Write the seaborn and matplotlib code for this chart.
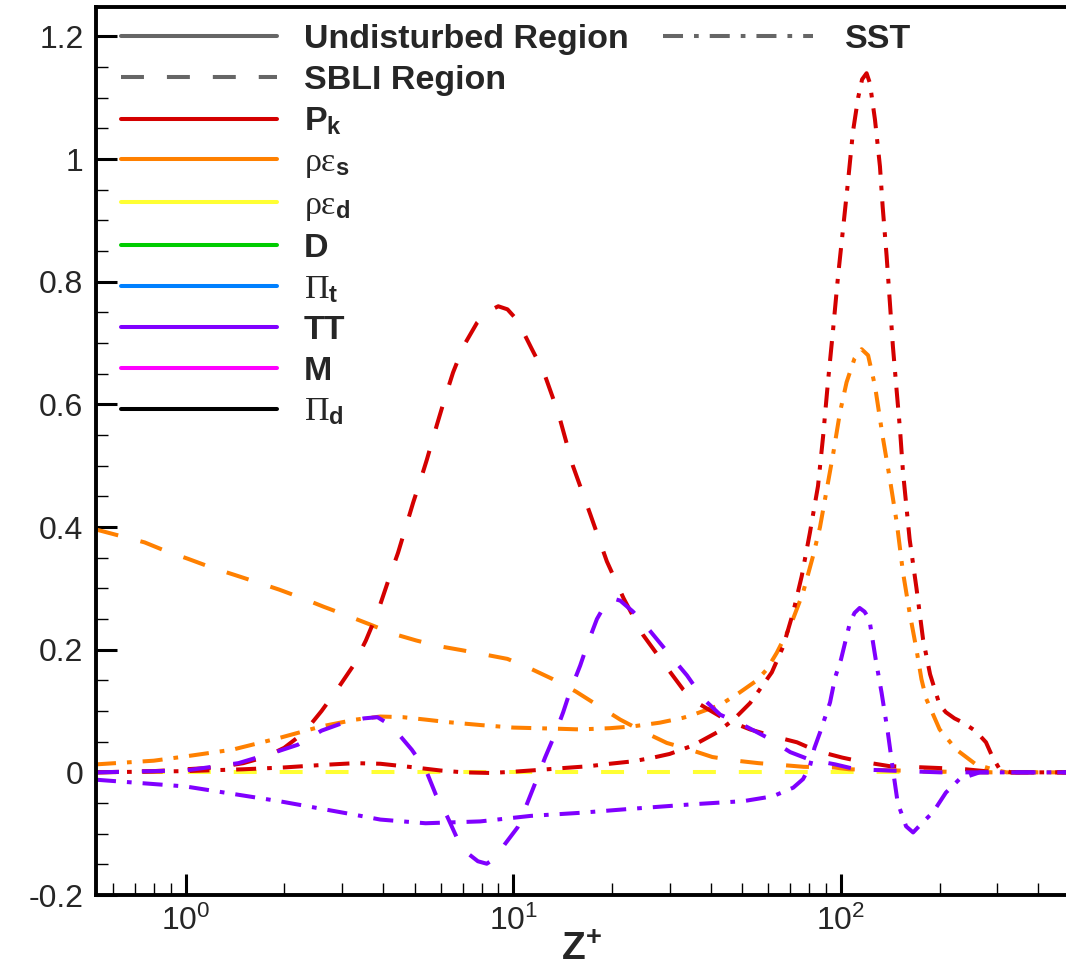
import matplotlib
matplotlib.use("Agg")
import matplotlib.pyplot as plt
import seaborn as sns
from matplotlib.font_manager import FontProperties
from matplotlib.lines import Line2D
from matplotlib.ticker import FuncFormatter, LogLocator, MultipleLocator, NullFormatter

# ---- data (Z+ vs budget term) ----
z_pk_sbli = [0.533, 0.8, 1.0, 1.25, 1.5, 1.75, 2.0, 2.3, 2.6, 2.9, 3.25, 3.55, 3.85, 4.2,
             4.45, 4.7, 4.95, 5.2, 5.45, 5.85, 6.2, 6.55, 7.05, 7.75, 8.4, 9.0, 9.6, 10.3,
             11.4, 12.4, 13.7, 15.2, 17.2, 19.3, 21.7, 24.9, 29.4, 33.0, 36.3, 39.0, 44.8,
             52.8, 62.0, 73.4, 84.3, 101, 114, 141, 162, 200, 240, 300, 486]
pk_sbli = [0.0, 0.002, 0.005, 0.008, 0.015, 0.025, 0.04, 0.065, 0.10, 0.135, 0.174, 0.215,
           0.26, 0.32, 0.358, 0.40, 0.44, 0.475, 0.51, 0.567, 0.612, 0.652, 0.695, 0.733, 0.752,
           0.76, 0.755, 0.737, 0.69, 0.652, 0.587, 0.50, 0.42, 0.344, 0.284, 0.224, 0.171,
           0.135, 0.114, 0.104, 0.085, 0.07, 0.059, 0.049, 0.035, 0.024, 0.018, 0.01, 0.009,
           0.007, 0.005, 0.0, 0.0]

z_eps_sbli = [0.533, 0.75, 0.86, 1.02, 1.2, 1.41, 1.63, 1.93, 2.27, 2.64, 3.1, 3.66, 4.3,
              5.06, 5.9, 7.0, 8.2, 9.6, 11.2, 13.2, 15.5, 18.0, 21.2, 25.0, 29.4, 34.6, 40.5,
              48, 56, 66, 77, 95, 106, 150, 250, 486]
eps_sbli = [0.396, 0.375, 0.362, 0.348, 0.334, 0.322, 0.311, 0.298, 0.284, 0.27, 0.256,
            0.241, 0.226, 0.215, 0.206, 0.199, 0.192, 0.185, 0.17, 0.152, 0.132, 0.11, 0.086,
            0.066, 0.048, 0.037, 0.025, 0.019, 0.015, 0.012, 0.009, 0.008, 0.005, 0.003, 0.0, 0.0]

z_tt_sbli = [0.533, 1.0, 1.45, 1.93, 2.2, 2.6, 3.0, 3.5, 3.85, 4.25, 4.9, 5.4, 5.8, 6.3, 6.8,
             7.3, 7.8, 8.3, 8.8, 9.4, 10.3, 11.0, 11.8, 12.5, 13.4, 14.2, 14.9, 16.0, 17.0,
             18.0, 19.0, 20.0, 21.2, 23.2, 26.2, 30.2, 33.9, 38.0, 42.8, 50, 59.4, 70, 80, 96,
             111, 140, 200, 486]
tt_sbli = [0.0, 0.003, 0.015, 0.035, 0.045, 0.068, 0.08, 0.088, 0.09, 0.076, 0.037, 0.005,
           -0.036, -0.073, -0.112, -0.133, -0.145, -0.149, -0.14, -0.118, -0.09, -0.052,
           -0.011, 0.024, 0.062, 0.098, 0.132, 0.174, 0.215, 0.25, 0.272, 0.284, 0.28, 0.262,
           0.23, 0.19, 0.158, 0.12, 0.094, 0.078, 0.057, 0.033, 0.021, 0.013, 0.005, 0.003,
           0.0, 0.0]

z_epsd_sbli = [0.533, 486]
epsd_sbli = [0.0, 0.0]

z_pk_sst = [0.533, 1.0, 1.5, 2.0, 2.6, 3.3, 3.93, 5.0, 6.0, 7.05, 8.5, 10, 12, 14.2, 17, 19.7,
            23.2, 26.7, 30, 35.4, 41.8, 47, 52.8, 57, 61.5, 66.6, 71.4, 75.9, 80.4, 85.1, 88.2,
            91.2, 94.6, 98, 101.4, 105, 108.8, 112.8, 116, 119.7, 122.5, 127, 131.5, 134,
            137.8, 141, 144, 148, 151.4, 154.6, 162, 170, 178, 187, 200, 209, 222, 236, 258,
            277, 290, 305, 330, 486]
pk_sst = [0.0, 0.002, 0.005, 0.008, 0.012, 0.015, 0.014, 0.008, 0.003, 0.0, -0.001, 0.001,
          0.004, 0.007, 0.01, 0.014, 0.018, 0.024, 0.03, 0.044, 0.065, 0.086, 0.113, 0.138,
          0.163, 0.205, 0.26, 0.32, 0.391, 0.467, 0.548, 0.635, 0.722, 0.81, 0.885, 0.962,
          1.045, 1.1, 1.13, 1.14, 1.124, 1.064, 0.988, 0.923, 0.842, 0.766, 0.695, 0.62,
          0.559, 0.49, 0.38, 0.30, 0.217, 0.16, 0.11, 0.098, 0.088, 0.081, 0.067, 0.049,
          0.025, 0.005, 0.0, 0.0]

z_eps_sst = [0.533, 0.8, 1.0, 1.39, 1.93, 2.6, 3.3, 3.93, 4.6, 5.4, 6.28, 8.0, 10, 13.9, 16,
             19.7, 23.2, 28, 33, 35.4, 42.8, 49, 55.4, 59.4, 63.7, 70, 76.6, 82.2, 86.3, 90.4,
             94.7, 99.3, 104, 110, 115.6, 121, 127, 134, 141, 148, 154.6, 162, 170, 176, 182,
             200, 225, 258, 290, 320, 486]
eps_sst = [0.013, 0.019, 0.026, 0.037, 0.056, 0.075, 0.086, 0.091, 0.09, 0.086, 0.082, 0.077,
           0.073, 0.071, 0.07, 0.072, 0.075, 0.081, 0.089, 0.094, 0.11, 0.13, 0.15, 0.168,
           0.195, 0.238, 0.293, 0.353, 0.40, 0.46, 0.52, 0.587, 0.636, 0.675, 0.69, 0.68,
           0.63, 0.548, 0.478, 0.407, 0.326, 0.26, 0.2, 0.152, 0.12, 0.07, 0.037, 0.013,
           0.005, 0.0, 0.0]

z_tt_sst = [0.533, 1.0, 1.93, 3.27, 3.93, 5.4, 7.93, 11.3, 16, 22.2, 35.4, 50.3, 62, 71.5,
            76.6, 80.4, 83, 86.3, 92.6, 96, 100, 106.5, 110, 114, 118, 122, 128, 133, 139,
            144, 149, 158, 166, 178, 191, 209, 230, 265, 486]
tt_sst = [-0.012, -0.023, -0.047, -0.069, -0.077, -0.083, -0.08, -0.071, -0.066, -0.06,
          -0.052, -0.047, -0.039, -0.025, -0.011, 0.01, 0.04, 0.065, 0.114, 0.155, 0.184,
          0.244, 0.26, 0.268, 0.262, 0.25, 0.18, 0.13, 0.065, 0.005, -0.05, -0.088, -0.098,
          -0.081, -0.065, -0.033, -0.011, 0.0, 0.0]

legend_terms = ["Undisturbed Region", "SBLI Region", r"$\mathbf{P}_{\mathbf{k}}$",
                r"$\rho\varepsilon_{\mathbf{s}}$", r"$\rho\varepsilon_{\mathbf{d}}$", "D",
                r"$\mathsf{\Pi}_{\mathbf{t}}$", "TT", "M", r"$\mathsf{\Pi}_{\mathbf{d}}$"]

RED, ORANGE, YELLOW = "#d40000", "#ff8000", "#ffff33"
GREEN, BLUE, PURPLE, MAGENTA = "#00cc00", "#0080ff", "#8000ff", "#ff00ff"
GRAY = "#666666"
LW = 2.9
DASHED = (0, (5.7, 5.7))
DASHDOT = (0, (4.97, 2.73, 1.17, 2.73))

sns.set_style("ticks")
plt.rcParams["font.family"] = ["Liberation Sans", "DejaVu Sans"]
plt.rcParams["mathtext.fontset"] = "custom"
plt.rcParams["mathtext.rm"] = "Liberation Sans"
plt.rcParams["mathtext.it"] = "Liberation Serif"
plt.rcParams["mathtext.bf"] = "Liberation Sans:bold"
plt.rcParams["mathtext.sf"] = "Liberation Serif"

W, H = 1066, 971
fig = plt.figure(figsize=(W / 100, H / 100), dpi=100)
ax = fig.add_axes([96 / W, 76 / H, 970 / W, 888 / H])

curves = [
    (z_epsd_sbli, epsd_sbli, YELLOW, DASHED),
    (z_eps_sbli, eps_sbli, ORANGE, DASHED),
    (z_eps_sst, eps_sst, ORANGE, DASHDOT),
    (z_pk_sbli, pk_sbli, RED, DASHED),
    (z_pk_sst, pk_sst, RED, DASHDOT),
    (z_tt_sbli, tt_sbli, PURPLE, DASHED),
    (z_tt_sst, tt_sst, PURPLE, DASHDOT),
]
for z, v, color, ls in curves:
    sns.lineplot(x=z, y=v, ax=ax, color=color, linewidth=LW, linestyle=ls,
                 estimator=None, sort=False, legend=False)

ax.set_xscale("log")
ax.set_xlim(0.533, 486)
ax.set_ylim(-0.2, 1.248)

ax.xaxis.set_major_locator(LogLocator(base=10))
ax.xaxis.set_minor_locator(LogLocator(base=10, subs=range(2, 10)))
ax.xaxis.set_minor_formatter(NullFormatter())
ax.yaxis.set_major_locator(MultipleLocator(0.2))
ax.yaxis.set_minor_locator(MultipleLocator(0.05))
ax.yaxis.set_major_formatter(FuncFormatter(lambda v, p: f"{round(v, 6) + 0.0:g}"))

ax.tick_params(which="major", direction="in", length=15, width=2.2, labelsize=23,
               top=False, right=False, color="black")
ax.tick_params(which="minor", direction="in", length=8.5, width=1.0,
               top=False, right=False, color="black")
ax.tick_params(axis="y", which="major", pad=9)
ax.tick_params(axis="x", which="major", pad=8)

for side in ["left", "bottom", "top"]:
    ax.spines[side].set_linewidth(2.8)
    ax.spines[side].set_color("black")
ax.spines["right"].set_visible(False)

ax.set_xlabel(r"$\mathbf{Z^{+}}$", fontsize=28, labelpad=-4)
ax.set_ylabel("")

prop = FontProperties(family="Liberation Sans", weight="bold", size=24.5)
handle_colors = [RED, ORANGE, YELLOW, GREEN, BLUE, PURPLE, MAGENTA, "black"]
handles = [Line2D([], [], color=GRAY, lw=LW, ls="-"),
           Line2D([], [], color=GRAY, lw=LW, ls=DASHED)]
handles += [Line2D([], [], color=c, lw=LW, ls="-") for c in handle_colors]

leg1 = ax.legend(handles, legend_terms, loc="upper left",
                 bbox_to_anchor=(121 / W, (H - 24) / H), bbox_transform=fig.transFigure,
                 frameon=False, prop=prop, handlelength=4.59, handletextpad=0.78,
                 labelspacing=0.29, borderpad=0, borderaxespad=0)
ax.add_artist(leg1)
ax.legend([Line2D([], [], color=GRAY, lw=LW, ls=DASHDOT)], ["SST"], loc="upper left",
          bbox_to_anchor=(663 / W, (H - 24) / H), bbox_transform=fig.transFigure,
          frameon=False, prop=prop, handlelength=4.41, handletextpad=0.94,
          borderpad=0, borderaxespad=0)

fig.savefig("out.png", dpi=100)
